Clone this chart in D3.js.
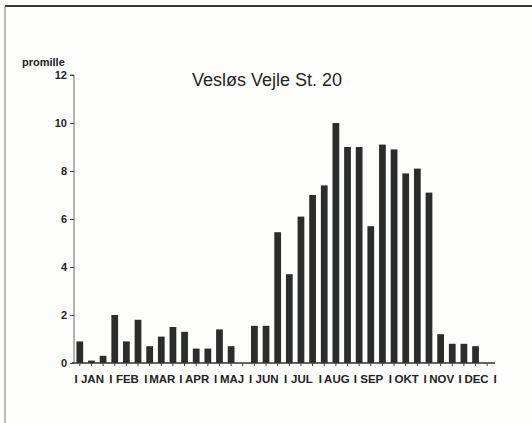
<!DOCTYPE html>
<html>
<head>
<meta charset="utf-8">
<script src="https://cdn.jsdelivr.net/npm/d3@7"></script>
<style>
    body { margin: 0; background: #fdfdfb; }
    svg { display: block; }
    text { font-family: "Liberation Sans", Arial, sans-serif; fill: #232323; }
</style>
</head>
<body>
<svg id="chart"></svg>
<script>
// DATA
var months = ["JAN", "FEB", "MAR", "APR", "MAJ", "JUN", "JUL", "AUG", "SEP", "OKT", "NOV", "DEC"];
// three samples per month, null = no sample
var samplesPerMonth = 3;
var promille = [
    0.9, 0.1, 0.3,
    2.0, 0.9, 1.8,
    0.7, 1.1, 1.5,
    1.3, 0.6, 0.6,
    1.4, 0.7, null,
    1.55, 1.55, 5.45,
    3.7, 6.1, 7.0,
    7.4, 10.0, 9.0,
    9.0, 5.7, 9.1,
    8.9, 7.9, 8.1,
    7.1, 1.2, 0.8,
    0.8, 0.7, null
];
var yTicks = [0, 2, 4, 6, 8, 10, 12];
var title = "Vesløs Vejle St. 20";
var yLabel = "promille";

// layout
var _width = 532;
var _height = 423;
var _left = 74, _right = 493;
var _top = 75, _bottom = 363;

var svg = d3.select("#chart")
    .attr("width", _width)
    .attr("height", _height);

// frame (only top and left edges show on the scan)
svg.append("line")
    .attr("x1", 5).attr("y1", 6).attr("x2", _width).attr("y2", 6)
    .attr("stroke", "#3a3a3a").attr("stroke-width", 2);
svg.append("line")
    .attr("x1", 5).attr("y1", 6).attr("x2", 5).attr("y2", _height)
    .attr("stroke", "#777").attr("stroke-width", 1);

var x = d3.scaleBand()
    .domain(d3.range(promille.length))
    .range([_left, _right])
    .paddingInner(0.42)
    .paddingOuter(0.21);

var xMonth = d3.scaleBand()
    .domain(months)
    .range([_left, _right]);

var y = d3.scaleLinear()
    .domain([0, 12])
    .range([_bottom, _top]);

// bars
svg.append("g").selectAll("rect")
    .data(promille.map(function(v, i) { return { i: i, v: v }; })
        .filter(function(d) { return d.v !== null; }))
    .enter()
    .append("rect")
        .attr("x", function(d) { return x(d.i); })
        .attr("y", function(d) { return y(d.v); })
        .attr("width", x.bandwidth())
        .attr("height", function(d) { return y(0) - y(d.v); })
        .attr("fill", "#2b2d2d");

// y axis
var yAxis = svg.append("g")
    .attr("transform", "translate(" + _left + ",0)")
    .call(d3.axisLeft(y).tickValues(yTicks).tickSize(4).tickPadding(3));
yAxis.select(".domain").attr("stroke", "#666").attr("d", "M-4," + _top + "H0V" + _bottom);
yAxis.selectAll(".tick line").attr("stroke", "#444");
yAxis.selectAll(".tick text")
    .attr("fill", "#232323")
    .style("font-size", "11px")
    .style("font-weight", "bold")
    .style("font-family", "'Liberation Sans', Arial, sans-serif");

// x axis: baseline with a small tick under every sample
var xAxis = svg.append("g")
    .attr("transform", "translate(0," + _bottom + ")")
    .call(d3.axisBottom(x).tickSize(3).tickFormat(""));
xAxis.select(".domain").attr("stroke", "#333").attr("stroke-width", 1.4)
    .attr("d", "M" + (_left - 2) + ",0H" + (_right + 2));
xAxis.selectAll(".tick line").attr("stroke", "#444");

// month labels with "I" separators
var gMonths = svg.append("g").classed("months", true);
gMonths.selectAll(".month")
    .data(months)
    .enter()
    .append("text")
        .classed("month", true)
        .attr("x", function(d) { return xMonth(d) + xMonth.bandwidth() / 2 + 1; })
        .attr("y", _bottom + 20)
        .style("text-anchor", "middle")
        .style("font-size", "11.5px")
        .style("font-weight", "bold")
        .text(function(d) { return d; });

gMonths.selectAll(".sep")
    .data(months.concat(["end"]))
    .enter()
    .append("text")
        .classed("sep", true)
        .attr("x", function(d, i) { return _left + i * xMonth.step() + 2; })
        .attr("y", _bottom + 20)
        .style("text-anchor", "middle")
        .style("font-size", "11.5px")
        .style("font-weight", "bold")
        .text("I");

// labels
svg.append("text")
    .attr("x", 22)
    .attr("y", 66)
    .style("font-size", "11px")
    .style("font-weight", "bold")
    .text(yLabel);

svg.append("text")
    .attr("x", 192)
    .attr("y", 86)
    .style("font-size", "18px")
    .text(title);
</script>
</body>
</html>
